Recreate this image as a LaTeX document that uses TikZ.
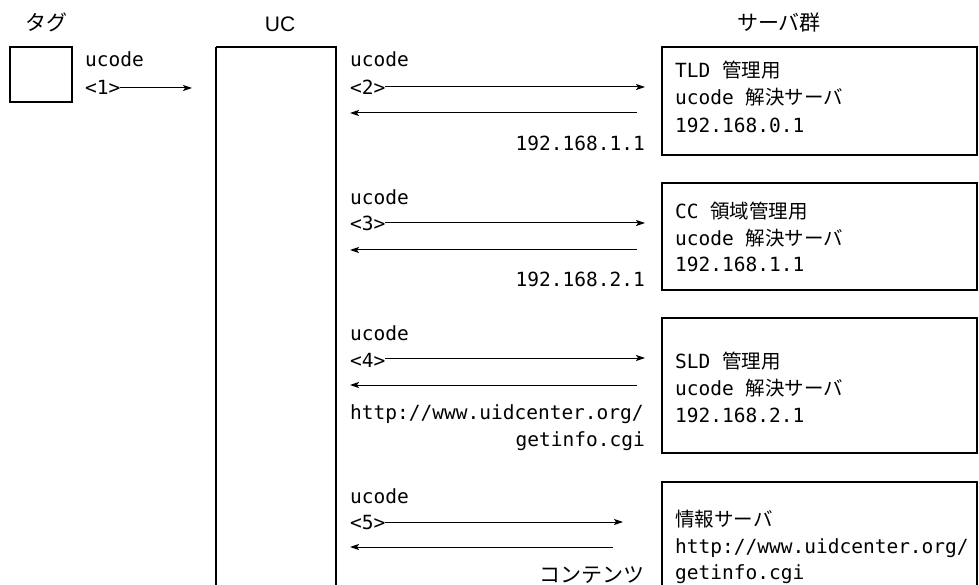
\documentclass[tikz,border=0pt]{standalone}
\usepackage{fontspec}
\setmainfont{Liberation Sans}
\newfontfamily\jpfont{Noto Sans CJK JP}
\newfontfamily\monofont{DejaVu Sans Mono}
\usetikzlibrary{arrows.meta}
\newcommand\mt[1]{{\monofont\fontsize{19.5}{24}\selectfont #1}}
\newcommand\jt[1]{{\jpfont\fontsize{19.5}{24}\selectfont #1}}
\begin{document}
\begin{tikzpicture}[x=1pt,y=-1pt,
  lbl/.style={inner sep=0pt,anchor=base west},
  rlbl/.style={inner sep=0pt,anchor=base east},
  head/.style={inner sep=0pt,anchor=base},
  boxline/.style={draw=black,line width=1.8pt},
  arr/.style={line width=1pt,-{Stealth[length=9pt,width=6pt,inset=2pt]}}]
\clip (0,0) rectangle (979,585);
\fill[white] (0,0) rectangle (979,585);
% headings
\node[head] (htag) at (46,31) {\jpfont\fontsize{21}{24}\selectfont タグ};
\node[head] (huc) at (280,32) {\fontsize{21}{24}\selectfont UC};
\node[head] (hsrv) at (779,31) {\jpfont\fontsize{21}{24}\selectfont サーバ群};
% boxes
\draw[boxline] (10,47) rectangle (72,102);
\node[inner sep=0pt] (tag) at (41,74.5) {};
\draw[boxline] (216,47) -- (216,600) (216,47) -- (336,47) -- (336,600);
\node[inner sep=0pt] (uc) at (276,300) {};
\draw[boxline] (662,47) rectangle (977,155);
\draw[boxline] (662,183) rectangle (977,290);
\draw[boxline] (662,318) rectangle (977,453);
\draw[boxline] (662,482) rectangle (977,600);
% server texts
\node[lbl] (s1a) at (675,78) {\mt{TLD }\jt{管理用}};
\node[lbl] (s1b) at (675,105) {\mt{ucode }\jt{解決サーバ}};
\node[lbl] (s1c) at (675,133) {\mt{192.168.0.1}};
\node[lbl] (s2a) at (675,219) {\mt{CC }\jt{領域管理用}};
\node[lbl] (s2b) at (675,246) {\mt{ucode }\jt{解決サーバ}};
\node[lbl] (s2c) at (675,272) {\mt{192.168.1.1}};
\node[lbl] (s3a) at (675,368) {\mt{SLD }\jt{管理用}};
\node[lbl] (s3b) at (675,395) {\mt{ucode }\jt{解決サーバ}};
\node[lbl] (s3c) at (675,422) {\mt{192.168.2.1}};
\node[lbl] (s4a) at (675,526) {\jt{情報サーバ}};
\node[lbl] (s4b) at (675,553) {\mt{http://www.uidcenter.org/}};
\node[lbl] (s4c) at (675,579) {\mt{getinfo.cgi}};
% tag -> UC
\node[lbl] (u1) at (85,67) {\mt{ucode}};
\node[lbl] (n1) at (85,95) {\mt{<1>}};
\coordinate (a1s) at (120,88);
\coordinate (a1e) at (192,88);
\draw[arr] (a1s) -- (a1e);
% row 1
\node[lbl] (u2) at (350,67) {\mt{ucode}};
\node[lbl] (n2) at (350,95) {\mt{<2>}};
\coordinate (f2s) at (385,87); \coordinate (f2e) at (645,87);
\coordinate (b2s) at (637,113); \coordinate (b2e) at (350,113);
\draw[arr] (f2s) -- (f2e);
\draw[arr] (b2s) -- (b2e);
\node[rlbl] (r2) at (645,151) {\mt{192.168.1.1}};
% row 2
\node[lbl] (u3) at (350,205) {\mt{ucode}};
\node[lbl] (n3) at (350,231) {\mt{<3>}};
\coordinate (f3s) at (385,223); \coordinate (f3e) at (645,223);
\coordinate (b3s) at (637,250); \coordinate (b3e) at (350,250);
\draw[arr] (f3s) -- (f3e);
\draw[arr] (b3s) -- (b3e);
\node[rlbl] (r3) at (645,286) {\mt{192.168.2.1}};
% row 3
\node[lbl] (u4) at (350,340) {\mt{ucode}};
\node[lbl] (n4) at (350,367) {\mt{<4>}};
\coordinate (f4s) at (385,358); \coordinate (f4e) at (645,358);
\coordinate (b4s) at (637,385); \coordinate (b4e) at (350,385);
\draw[arr] (f4s) -- (f4e);
\draw[arr] (b4s) -- (b4e);
\node[lbl] (r4a) at (350,419) {\mt{http://www.uidcenter.org/}};
\node[rlbl] (r4b) at (645,446) {\mt{getinfo.cgi}};
% row 4
\node[lbl] (u5) at (350,503) {\mt{ucode}};
\node[lbl] (n5) at (350,529) {\mt{<5>}};
\coordinate (f5s) at (385,522); \coordinate (f5e) at (623,522);
\coordinate (b5s) at (613,547); \coordinate (b5e) at (350,547);
\draw[arr] (f5s) -- (f5e);
\draw[arr] (b5s) -- (b5e);
\node[rlbl] (r5) at (645,582) {\jpfont\fontsize{21}{24}\selectfont コンテンツ};
\end{tikzpicture}
\end{document}
